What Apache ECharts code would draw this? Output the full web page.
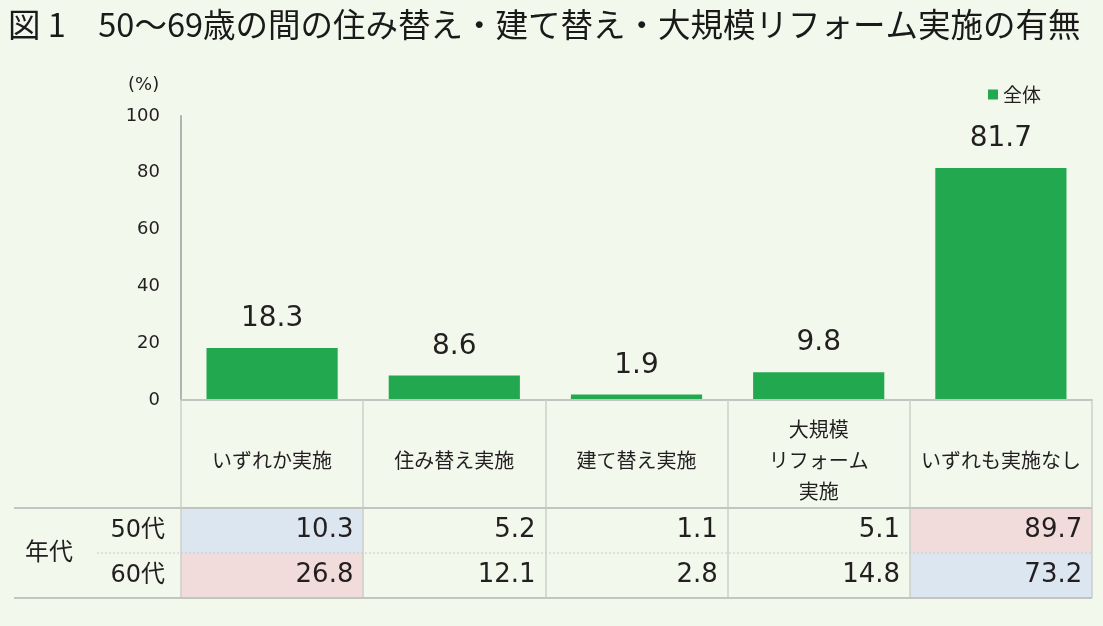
<!DOCTYPE html>
<html><head><meta charset="utf-8">
<script src="https://cdn.jsdelivr.net/npm/echarts@6/dist/echarts.min.js"></script>
<style>html,body{margin:0;padding:0;background:#f3f8ec;}#c{width:1103px;height:626px;}</style>
</head><body><div id="c"></div>
<script>
const titleText = '図 1　50〜69歳の間の住み替え・建て替え・大規模リフォーム実施の有無';
const categories = ['いずれか実施', '住み替え実施', '建て替え実施', '大規模\nリフォーム\n実施', 'いずれも実施なし'];
const totalValues = [18.3, 8.6, 1.9, 9.8, 81.7];
const rowLabels = ['50代', '60代'];
const values50 = [10.3, 5.2, 1.1, 5.1, 89.7];
const values60 = [26.8, 12.1, 2.8, 14.8, 73.2];
// cell highlight: 'hi' = higher (pink), 'lo' = lower (blue), '' = none
const mark50 = ['lo', '', '', '', 'hi'];
const mark60 = ['hi', '', '', '', 'lo'];
const yTicks = [0, 20, 40, 60, 80, 100];

const NUM_FONT = "'DejaVu Sans', 'Noto Sans CJK JP', sans-serif";
const JP_FONT = "'Noto Sans CJK JP', sans-serif";
const TXT = '#231f20';
const markColor = {hi: '#f2dcdb', lo: '#dce6f1', '': 'rgba(0,0,0,0)'};

const cellData = [];
[values50, values60].forEach((arr, r) => {
  const marks = r === 0 ? mark50 : mark60;
  arr.forEach((v, i) => {
    cellData.push({value: [i, r, v], itemStyle: {color: markColor[marks[i]]}});
  });
});

const chart = echarts.init(document.getElementById('c'), null, {renderer: 'canvas'});
chart.setOption({
  backgroundColor: '#f3f8ec',
  animation: false,
  title: {text: titleText, left: 3, top: 3, textStyle: {fontFamily: JP_FONT, fontSize: 32.5, fontWeight: 'normal', color: '#1a1a1a'}},
  legend: {data: ['全体'], left: 983, top: 80, icon: 'rect', itemWidth: 10, itemHeight: 10, itemGap: 6,
    textStyle: {fontFamily: JP_FONT, fontSize: 19, color: TXT}},
  grid: [
    {left: 181, right: 11, top: 116, bottom: 226},
    {left: 181, right: 11, top: 508, height: 90}
  ],
  xAxis: [
    {type: 'category', gridIndex: 0, data: categories, z: 5,
      axisLine: {show: true, lineStyle: {color: '#c3c6c0', width: 2}},
      axisTick: {show: true, interval: 0, length: 198, lineStyle: {color: '#cdd0ca', width: 1.5}},
      axisLabel: {interval: 0, margin: 60, verticalAlign: 'middle', fontFamily: JP_FONT, fontSize: 20, lineHeight: 31, color: TXT}},
    {type: 'category', gridIndex: 1, data: categories, show: false}
  ],
  yAxis: [
    {type: 'value', gridIndex: 0, min: 0, max: 100, interval: 20,
      axisLine: {show: true, lineStyle: {color: '#b3b3b3', width: 2}},
      axisTick: {show: false}, splitLine: {show: false},
      axisLabel: {margin: 21, fontFamily: NUM_FONT, fontSize: 18, color: TXT,
        formatter: v => yTicks.includes(v) ? String(v) : ''}},
    {type: 'category', gridIndex: 1, data: rowLabels, inverse: true,
      axisLine: {show: false}, axisTick: {show: false}, splitLine: {show: false},
      axisLabel: {margin: 16, fontFamily: NUM_FONT, fontSize: 24, color: TXT}}
  ],
  series: [
    {name: '全体', type: 'bar', xAxisIndex: 0, yAxisIndex: 0, data: totalValues, barWidth: '72%',
      itemStyle: {color: '#22a94f'},
      label: {show: true, position: 'top', distance: 15, fontFamily: NUM_FONT, fontSize: 28, color: TXT,
        formatter: p => p.value.toFixed(1)}},
    {type: 'heatmap', xAxisIndex: 1, yAxisIndex: 1, data: cellData, z: 1,
      label: {show: true, position: 'insideRight', distance: 10, fontFamily: NUM_FONT, fontSize: 26, color: TXT,
        formatter: p => p.value[2].toFixed(1)},
      emphasis: {disabled: true}}
  ],
  graphic: [
    {type: 'text', left: 128, top: 76, style: {text: '(%)', font: "18px 'DejaVu Sans', sans-serif", fill: TXT}},
    {type: 'text', left: 25, top: 539, style: {text: '年代', font: "24px 'Noto Sans CJK JP', sans-serif", fill: TXT}},
    {type: 'line', z: 10, shape: {x1: 14, y1: 508, x2: 1092, y2: 508}, style: {stroke: '#c3c6c0', lineWidth: 2}},
    {type: 'line', z: 10, shape: {x1: 97, y1: 553, x2: 1092, y2: 553}, style: {stroke: '#c8cbc5', lineWidth: 1, lineDash: [2, 2]}},
    {type: 'line', z: 10, shape: {x1: 14, y1: 598, x2: 1092, y2: 598}, style: {stroke: '#c3c6c0', lineWidth: 2}}
  ]
});
</script></body></html>
